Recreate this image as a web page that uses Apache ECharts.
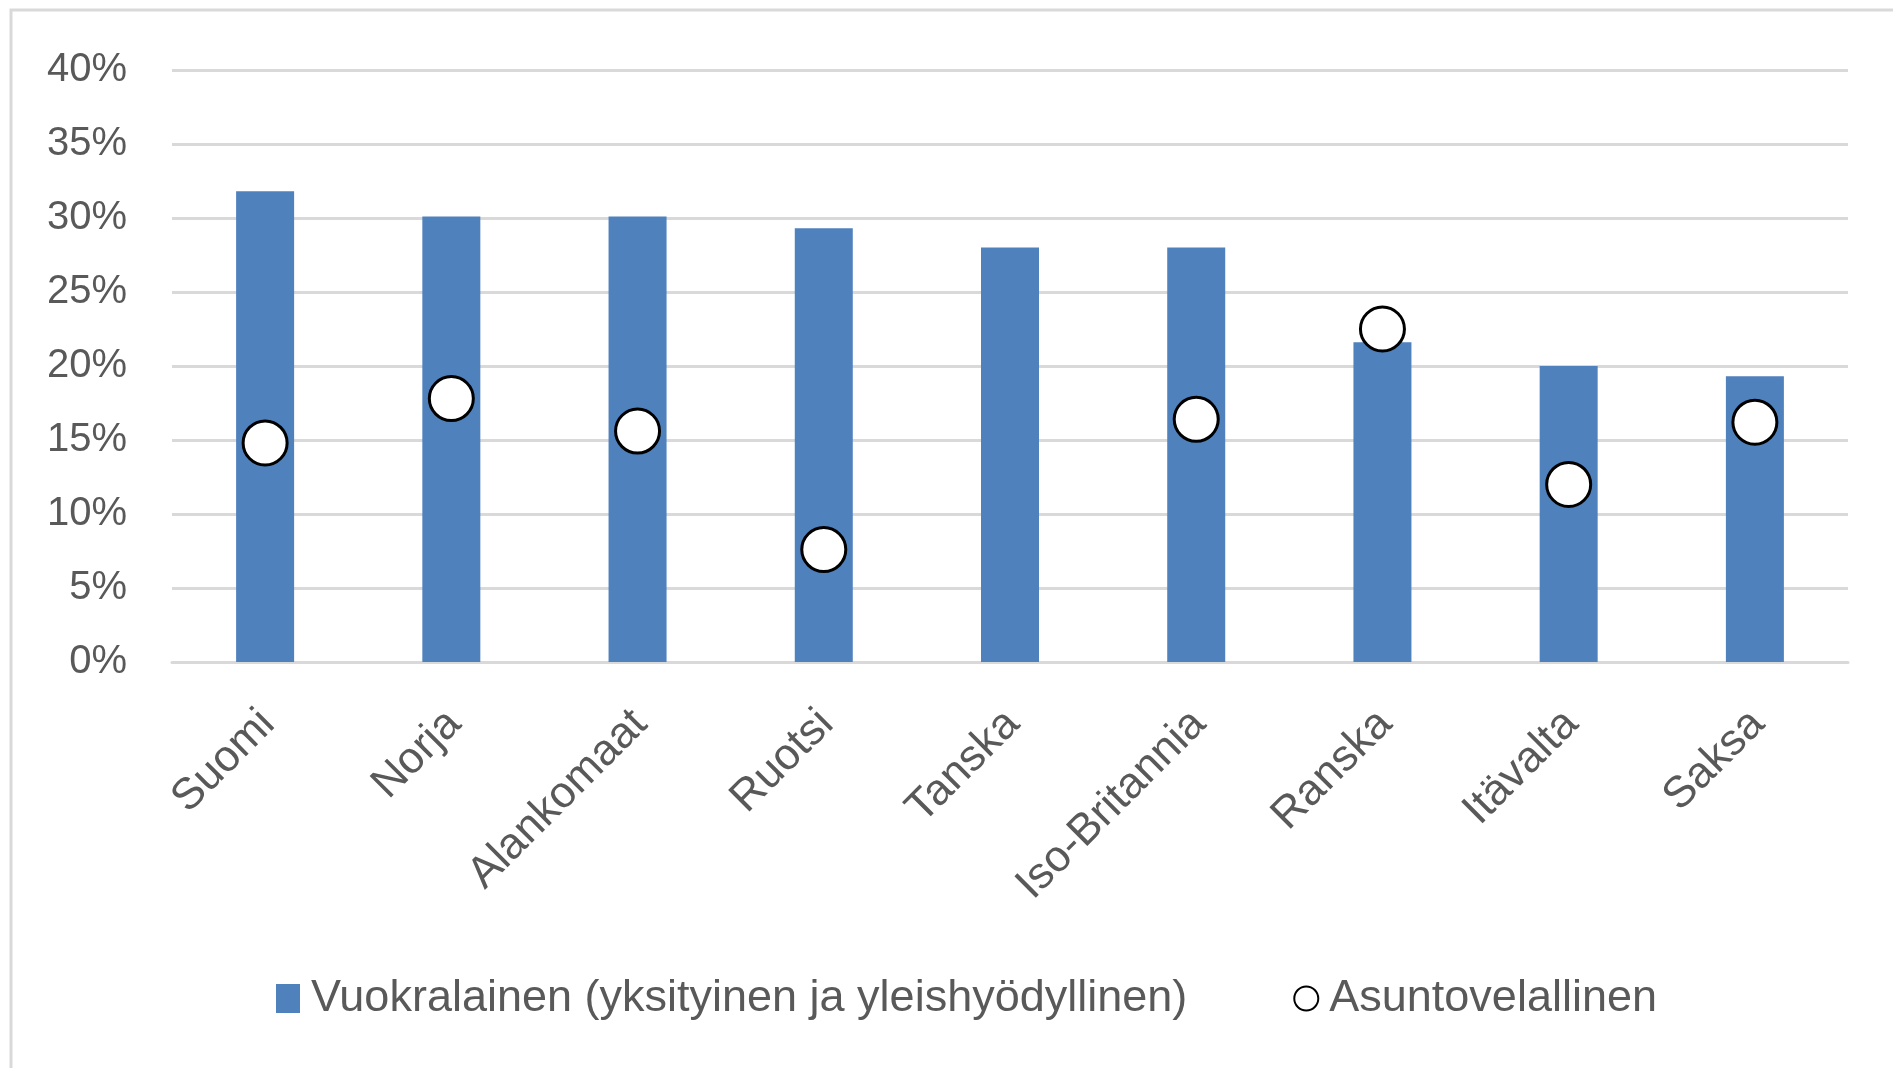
<!DOCTYPE html>
<html>
<head>
<meta charset="utf-8">
<script src="https://cdn.jsdelivr.net/npm/echarts@6/dist/echarts.min.js"></script>
<style>
html,body{margin:0;padding:0;background:#fff;}
#main{width:1893px;height:1068px;}
</style>
</head>
<body>
<div id="main"></div>
<script>
const categories = ['Suomi','Norja','Alankomaat','Ruotsi','Tanska','Iso-Britannia','Ranska','Itävalta','Saksa'];
const vuokralainen = [31.8, 30.1, 30.1, 29.3, 28.0, 28.0, 21.6, 20.0, 19.3];
const asuntovelallinen = [14.8, 17.8, 15.6, 7.6, null, 16.4, 22.5, 12.0, 16.2];
const seriesNames = ['Vuokralainen (yksityinen ja yleishyödyllinen)', 'Asuntovelallinen'];
const yTicks = { min: 0, max: 40, interval: 5 };

const FONT = "'Liberation Sans', Arial, sans-serif";
const TXT = '#595959';
const GRIDC = '#d9d9d9';

const chart = echarts.init(document.getElementById('main'), null, {renderer: 'canvas'});
chart.setOption({
  backgroundColor: '#ffffff',
  animation: false,
  graphic: [{
    type: 'rect',
    shape: { x: 11, y: 10, width: 2000, height: 2000 },
    style: { fill: 'none', stroke: GRIDC, lineWidth: 3 },
    silent: true
  }],
  grid: { left: 172, right: 45, top: 70, bottom: 406, containLabel: false },
  legend: {
    left: 271,
    top: 971,
    itemWidth: 24,
    itemHeight: 29,
    itemGap: 106,
    textStyle: { fontFamily: FONT, fontSize: 45, color: TXT, lineHeight: 44, padding: [0, 0, 0, 6] },
    data: [
      { name: seriesNames[0], icon: 'rect' },
      { name: seriesNames[1], icon: 'circle' }
    ]
  },
  xAxis: {
    type: 'category',
    data: categories,
    axisTick: { show: false },
    axisLine: { lineStyle: { color: GRIDC, width: 3 } },
    axisLabel: {
      rotate: 45,
      interval: 0,
      margin: 58,
      padding: [0, -4, 0, 0],
      fontFamily: FONT,
      fontSize: 44,
      color: TXT
    }
  },
  yAxis: {
    type: 'value',
    min: yTicks.min,
    max: yTicks.max,
    interval: yTicks.interval,
    axisLine: { show: false },
    axisTick: { show: false },
    splitLine: { lineStyle: { color: GRIDC, width: 3 } },
    axisLabel: {
      formatter: '{value}%',
      margin: 45,
      fontFamily: FONT,
      fontSize: 40,
      color: TXT,
      padding: [0, 0, 12, 0]
    }
  },
  series: [
    {
      name: seriesNames[0],
      type: 'bar',
      data: vuokralainen,
      barWidth: 58,
      itemStyle: { color: '#4f81bd' },
      z: 2
    },
    {
      name: seriesNames[1],
      type: 'scatter',
      data: asuntovelallinen,
      symbol: 'circle',
      symbolSize: 44,
      itemStyle: { color: '#ffffff', borderColor: '#000000', borderWidth: 3, opacity: 1 },
      z: 3
    }
  ]
});
</script>
</body>
</html>
